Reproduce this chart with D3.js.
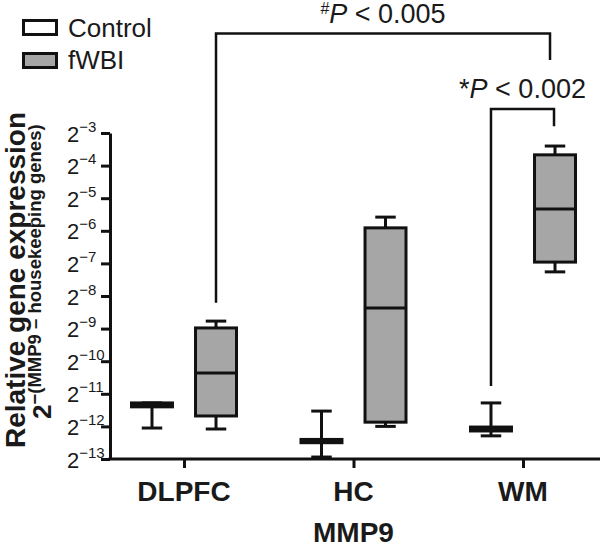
<!DOCTYPE html>
<html>
<head>
<meta charset="utf-8">
<script src="https://cdn.jsdelivr.net/npm/d3@7"></script>
<style>
  html, body { margin: 0; padding: 0; background: #fff; }
  svg { display: block; }
  text { font-family: "Liberation Sans", Arial, Helvetica, sans-serif; fill: #1a1a1a; }
</style>
</head>
<body>
<svg id="chart" width="600" height="548"></svg>
<script>
// ---- data (values are log2 exponents) ----
const categories = ["DLPFC", "HC", "WM"];
const groups = ["Control", "fWBI"];
const controlMin    = [-12.05, -12.94, -12.29];
const controlQ1     = [-11.40, -12.50, -12.14];
const controlMedian = [-11.34, -12.45, -12.08];
const controlQ3     = [-11.28, -12.40, -12.02];
const controlMax    = [-11.28, -11.53, -11.28];
const fwbiMin    = [-12.08, -12.00, -7.26];
const fwbiQ1     = [-11.68, -11.87, -6.96];
const fwbiMedian = [-10.36, -8.37, -5.33];
const fwbiQ3     = [-8.98, -5.91, -3.67];
const fwbiMax    = [-8.77, -5.58, -3.40];
const yTickExponents = [-13, -12, -11, -10, -9, -8, -7, -6, -5, -4, -3];
const xAxisTitle = "MMP9";
// significance comparisons
const compFromCat = ["DLPFC", "WM"];
const compFromGroup = ["fWBI", "Control"];
const compToCat = ["WM", "WM"];
const compToGroup = ["fWBI", "fWBI"];
const compTop = [0.05, -2.26];
const compFromEnd = [-8.21, -10.76];
const compToEnd = [-0.76, -2.79];
const compPrefix = ["#", "*"];
const compText = ["P", "P"];
const compRest = [" < 0.005", " < 0.002"];

const fills = { Control: "#ffffff", fWBI: "#a6a6a6" };
const ink = "#111111";

const svg = d3.select("#chart");
const y = d3.scaleLinear().domain([-13, -3]).range([459, 133]);
const x = d3.scalePoint().domain(categories).range([184, 523]);
const sub = d3.scaleBand().domain(groups).range([-52.5, 52.5]).paddingInner(0.36);
const bw = sub.bandwidth();

const boxData = [];
categories.forEach((c, i) => {
  boxData.push({cat: c, group: "Control", min: controlMin[i], q1: controlQ1[i], med: controlMedian[i], q3: controlQ3[i], max: controlMax[i]});
  boxData.push({cat: c, group: "fWBI", min: fwbiMin[i], q1: fwbiQ1[i], med: fwbiMedian[i], q3: fwbiQ3[i], max: fwbiMax[i]});
});
const cx = (cat, g) => x(cat) + sub(g) + bw / 2;

// ---- y axis ----
const yAxis = d3.axisLeft(y).tickValues(yTickExponents).tickSize(9).tickSizeOuter(0).tickFormat("");
const yg = svg.append("g").attr("transform", "translate(110,0)").call(yAxis);
yg.select(".domain").attr("stroke", ink).attr("stroke-width", 3);
yg.selectAll(".tick line").attr("stroke", ink).attr("stroke-width", 3);
const yl = svg.append("g");
yTickExponents.forEach(e => {
  const t = yl.append("text").attr("x", 67).attr("y", y(e) + 8.5).style("font-size", "22px");
  t.append("tspan").text("2");
  t.append("tspan").attr("dy", -10).style("font-size", "15px").text("\u2212" + Math.abs(e));
});

// ---- x axis ----
svg.append("line").attr("x1", 108.5).attr("x2", 600).attr("y1", y(-13)).attr("y2", y(-13))
  .attr("stroke", ink).attr("stroke-width", 3);
const xAxis = d3.axisBottom(x).tickSize(9).tickSizeOuter(0).tickFormat("");
const xg = svg.append("g").attr("transform", `translate(0,${y(-13)})`).call(xAxis);
xg.select(".domain").remove();
xg.selectAll(".tick line").attr("stroke", ink).attr("stroke-width", 3);
categories.forEach(c => {
  svg.append("text").attr("x", x(c)).attr("y", 501).attr("text-anchor", "middle")
    .style("font-size", "28px").style("font-weight", "bold").text(c);
});
svg.append("text").attr("x", x("HC")).attr("y", 542).attr("text-anchor", "middle")
  .style("font-size", "28px").style("font-weight", "bold").text(xAxisTitle);

// ---- y titles ----
svg.append("text").attr("transform", `translate(25,280) rotate(-90)`).attr("text-anchor", "middle")
  .style("font-size", "28px").style("font-weight", "bold").text("Relative gene expression");
const t2 = svg.append("text").attr("transform", `translate(51,419) rotate(-90)`);
t2.append("tspan").style("font-size", "26px").style("font-weight", "bold").text("2");
t2.append("tspan").attr("dy", -10).style("font-size", "18.5px").style("font-weight", "bold")
  .text("\u2212(MMP9 \u2013 housekeeping genes)");

// ---- boxes ----
const bg = svg.append("g");
boxData.forEach(d => {
  const c = cx(d.cat, d.group);
  const g = bg.append("g");
  g.append("line").attr("x1", c).attr("x2", c).attr("y1", y(d.max)).attr("y2", y(d.q3)).attr("stroke", ink).attr("stroke-width", 3);
  g.append("line").attr("x1", c).attr("x2", c).attr("y1", y(d.q1)).attr("y2", y(d.min)).attr("stroke", ink).attr("stroke-width", 3);
  g.append("line").attr("x1", c - bw / 4).attr("x2", c + bw / 4).attr("y1", y(d.max)).attr("y2", y(d.max)).attr("stroke", ink).attr("stroke-width", 3);
  g.append("line").attr("x1", c - bw / 4).attr("x2", c + bw / 4).attr("y1", y(d.min)).attr("y2", y(d.min)).attr("stroke", ink).attr("stroke-width", 3);
  g.append("rect").attr("x", c - bw / 2).attr("width", bw).attr("y", y(d.q3)).attr("height", y(d.q1) - y(d.q3))
    .attr("fill", fills[d.group]).attr("stroke", ink).attr("stroke-width", 3);
  g.append("line").attr("x1", c - bw / 2).attr("x2", c + bw / 2).attr("y1", y(d.med)).attr("y2", y(d.med)).attr("stroke", ink).attr("stroke-width", 3);
});

// ---- comparisons ----
compFromCat.forEach((fc, i) => {
  const x1 = cx(fc, compFromGroup[i]);
  const x2 = cx(compToCat[i], compToGroup[i]) - (i === 0 ? 5 : 1);
  svg.append("path").attr("fill", "none").attr("stroke", ink).attr("stroke-width", 2.5)
    .attr("d", `M${x1},${y(compFromEnd[i])}V${y(compTop[i])}H${x2}V${y(compToEnd[i])}`);
  const t = svg.append("text").attr("x", (x1 + x2) / 2).attr("y", y(compTop[i]) - 11).attr("text-anchor", "middle")
    .style("font-size", "27px");
  if (compPrefix[i] === "#") {
    t.append("tspan").attr("dy", -9).style("font-size", "16px").text(compPrefix[i]);
    t.append("tspan").attr("dy", 9).style("font-style", "italic").text(compText[i]);
  } else {
    t.append("tspan").text(compPrefix[i]);
    t.append("tspan").style("font-style", "italic").text(compText[i]);
  }
  t.append("tspan").text(compRest[i]);
});

// ---- legend ----
const lg = svg.append("g");
groups.forEach((g, i) => {
  lg.append("rect").attr("x", 23.5).attr("y", 20.5 + i * 33).attr("width", 33).attr("height", 14)
    .attr("fill", fills[g]).attr("stroke", ink).attr("stroke-width", 3);
  lg.append("text").attr("x", 68).attr("y", 37 + i * 31.5).style("font-size", "26px").text(g);
});
</script>
</body>
</html>
